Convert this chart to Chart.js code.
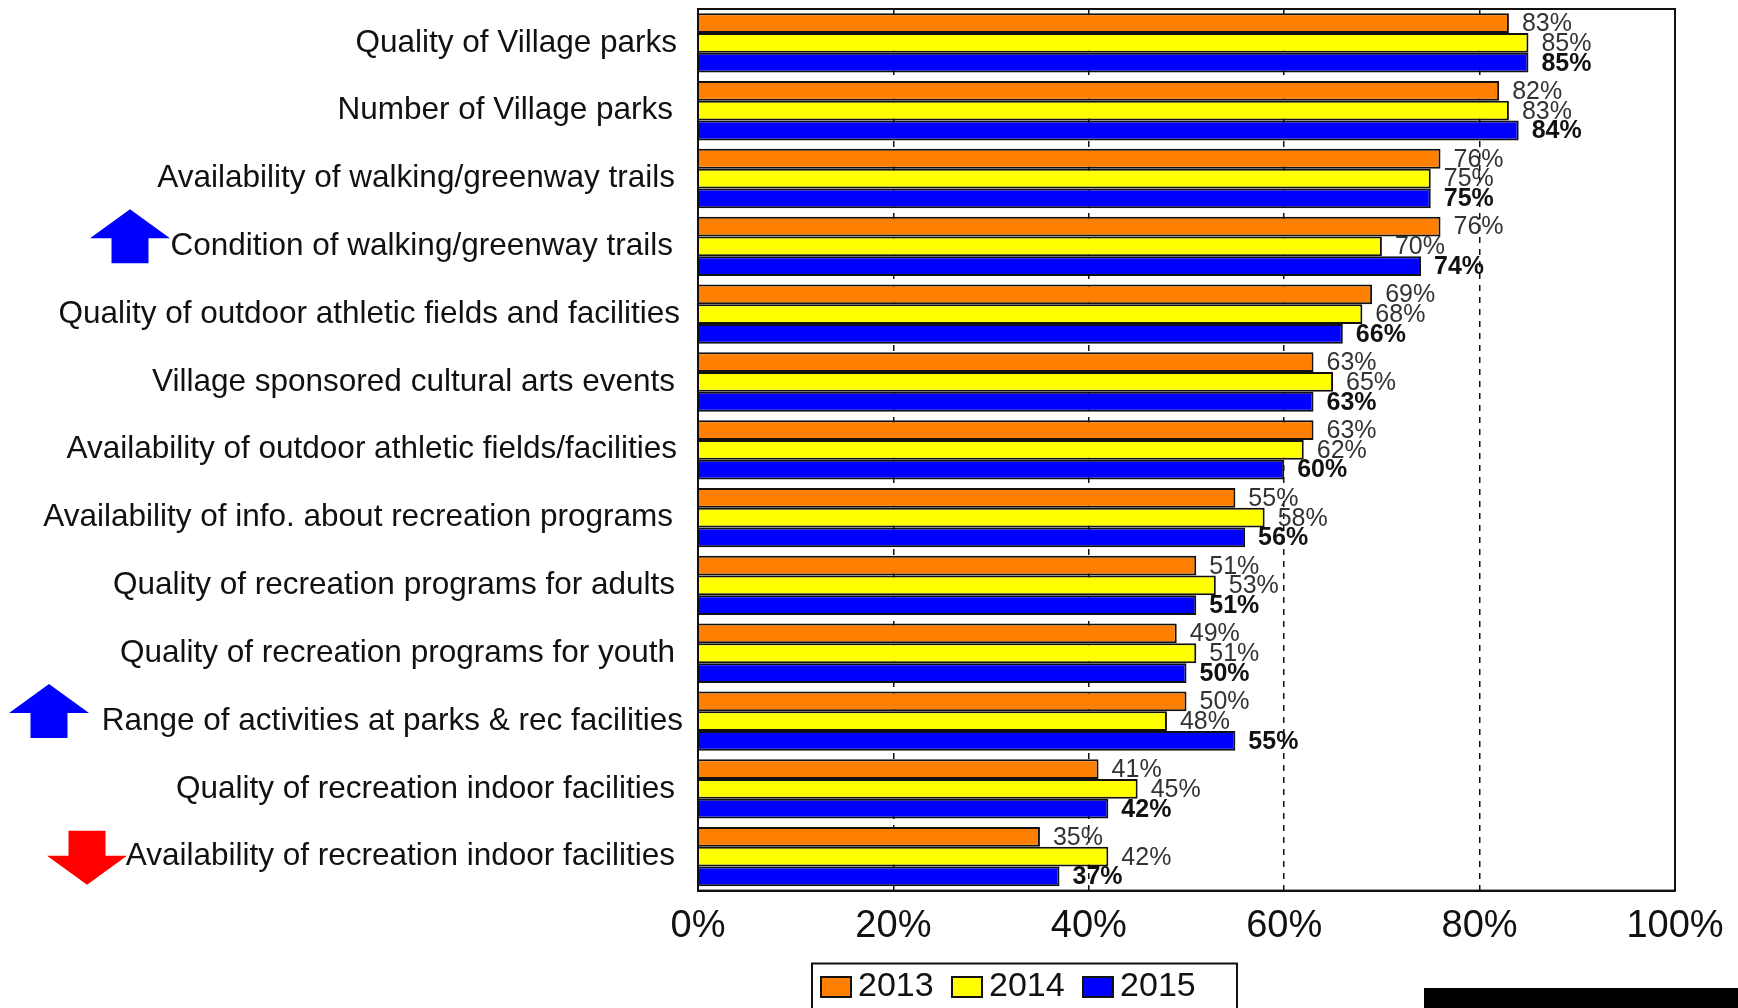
<!DOCTYPE html>
<html>
<head>
<meta charset="utf-8">
<style>
html,body{margin:0;padding:0;background:#fff;overflow:hidden}
canvas{display:block;background:#fff;filter:blur(0.55px)}
</style>
<script src="https://cdn.jsdelivr.net/npm/chart.js@4"></script>
</head>
<body>
<canvas id="c" width="1738" height="1008"></canvas>
<script>
const categories = [
  "Quality of Village parks","Number of Village parks","Availability of walking/greenway trails",
  "Condition of walking/greenway trails","Quality of outdoor athletic fields and facilities",
  "Village sponsored cultural arts events","Availability of outdoor athletic fields/facilities",
  "Availability of info. about recreation programs","Quality of recreation programs for adults",
  "Quality of recreation programs for youth","Range of activities at parks & rec facilities",
  "Quality of recreation indoor facilities","Availability of recreation indoor facilities"
];
const values2013 = [83,82,76,76,69,63,63,55,51,49,50,41,35];
const values2014 = [85,83,75,70,68,65,62,58,53,51,48,45,42];
const values2015 = [85,84,75,74,66,63,60,56,51,50,55,42,37];
const seriesNames = ["2013","2014","2015"];
const seriesColors = ["#FF8000","#FFFF00","#0000FF"];
const xTicks = [0,20,40,60,80,100];
// right edge of each hand-placed category label in the reference
const labelEdges = [677,673,675,673,680,675,677,673,675,675,683,675,675];
// trend arrows beside a category: [category index, centre x, direction, colour]
const arrowUp1 = [3,130,"up","#0000FF"];
const arrowUp2 = [10,49,"up","#0000FF"];
const arrowDown = [12,87,"down","#FF0000"];

const FONT = "'Liberation Sans', Arial, sans-serif";
const LEGEND_PAD = 18.4;

const decorations = {
  id:'decorations',
  afterLayout(chart){
    const lg = chart.legend;
    const w = lg.right - lg.left, h = lg.bottom - lg.top;
    lg.left = 821 - LEGEND_PAD; lg.right = lg.left + w;
    lg.top = 951.6; lg.bottom = lg.top + h;
  },
  beforeDraw(chart){
    const items = chart.scales.y.getLabelItems(chart.chartArea);
    items.forEach((it,i)=>{ it.options.translation[0] = labelEdges[i]; });
  },
  afterDatasetsDraw(chart){
    const ctx = chart.ctx, a = chart.chartArea;
    ctx.save();
    ctx.textBaseline = 'middle'; ctx.textAlign = 'left';
    chart.data.datasets.forEach((ds,d)=>{
      const meta = chart.getDatasetMeta(d);
      ctx.font = (d===2?'bold ':'') + '25px ' + FONT;
      ctx.fillStyle = d===2 ? '#111' : '#333';
      meta.data.forEach((bar,j)=>{ ctx.fillText(ds.data[j]+'%', bar.x+13, bar.y+1); });
    });
    ctx.strokeStyle='#111'; ctx.lineWidth=2;
    ctx.strokeRect(a.left,a.top,a.right-a.left,a.bottom-a.top);
    ctx.restore();
  },
  afterDraw(chart){
    const ctx = chart.ctx, y = chart.scales.y;
    ctx.save();
    [arrowUp1,arrowUp2,arrowDown].forEach(([cat,cx,dir,color])=>{
      const c = y.getPixelForValue(cat);
      const s = dir==='up' ? 1 : -1;
      const base = dir==='up' ? c-37 : c+28;
      ctx.fillStyle=color;
      ctx.beginPath();
      ctx.moveTo(cx,base);
      ctx.lineTo(cx+40,base+s*29);
      ctx.lineTo(cx+18.5,base+s*29);
      ctx.lineTo(cx+18.5,base+s*54);
      ctx.lineTo(cx-18.5,base+s*54);
      ctx.lineTo(cx-18.5,base+s*29);
      ctx.lineTo(cx-40,base+s*29);
      ctx.closePath(); ctx.fill();
    });
    // legend frame and full-width swatches
    ctx.strokeStyle='#111'; ctx.lineWidth=2;
    ctx.strokeRect(812,963.5,425,60);
    const lg = chart.legend;
    lg.legendHitBoxes.forEach((b,i)=>{
      const x = lg.left + LEGEND_PAD + i*131;
      ctx.fillStyle=seriesColors[i];
      ctx.fillRect(x,977,30,20);
      ctx.strokeStyle='#111'; ctx.lineWidth=2;
      ctx.strokeRect(x,977,30,20);
    });
    // black bar at the page's lower right
    ctx.fillStyle='#000';
    ctx.fillRect(1424,988,314,20);
    ctx.restore();
  }
};

new Chart(document.getElementById('c'),{
  type:'bar',
  data:{
    labels:categories,
    datasets:[values2013,values2014,values2015].map((v,i)=>({
      label:seriesNames[i],data:v,backgroundColor:seriesColors[i],
      borderColor:'#111',borderWidth:2,
      categoryPercentage:0.875,barPercentage:1
    }))
  },
  options:{
    indexAxis:'y',responsive:false,animation:false,
    devicePixelRatio:1,
    layout:{padding:{top:9,right:63,bottom:0,left:0}},
    plugins:{
      tooltip:{enabled:false},
      legend:{
        position:'bottom',align:'start',
        labels:{
          boxWidth:20,boxHeight:20,padding:LEGEND_PAD,color:'#111',
          font:{family:FONT,size:34}
        }
      }
    },
    scales:{
      x:{
        min:0,max:100,
        afterBuildTicks(s){ s.ticks = xTicks.map(v=>({value:v})); },
        afterFit(s){ s.height = 55; },
        ticks:{callback:v=>v+'%',color:'#111',padding:13,maxRotation:0,
          font:{family:FONT,size:38}},
        grid:{color:'#111',lineWidth:1.5,drawTicks:false},
        border:{color:'#111',width:2,
          dash:ctx=>(ctx.tick&&ctx.tick.value>0&&ctx.tick.value<100)?[6,6]:[]}
      },
      y:{
        afterFit(s){ s.width = 698; s.paddingTop = 0; s.paddingBottom = 0; },
        ticks:{color:'#111',padding:20,autoSkip:false,
          font:{family:FONT,size:31.5}},
        grid:{display:false},
        border:{color:'#111',width:2}
      }
    }
  },
  plugins:[decorations]
});
</script>
</body>
</html>
